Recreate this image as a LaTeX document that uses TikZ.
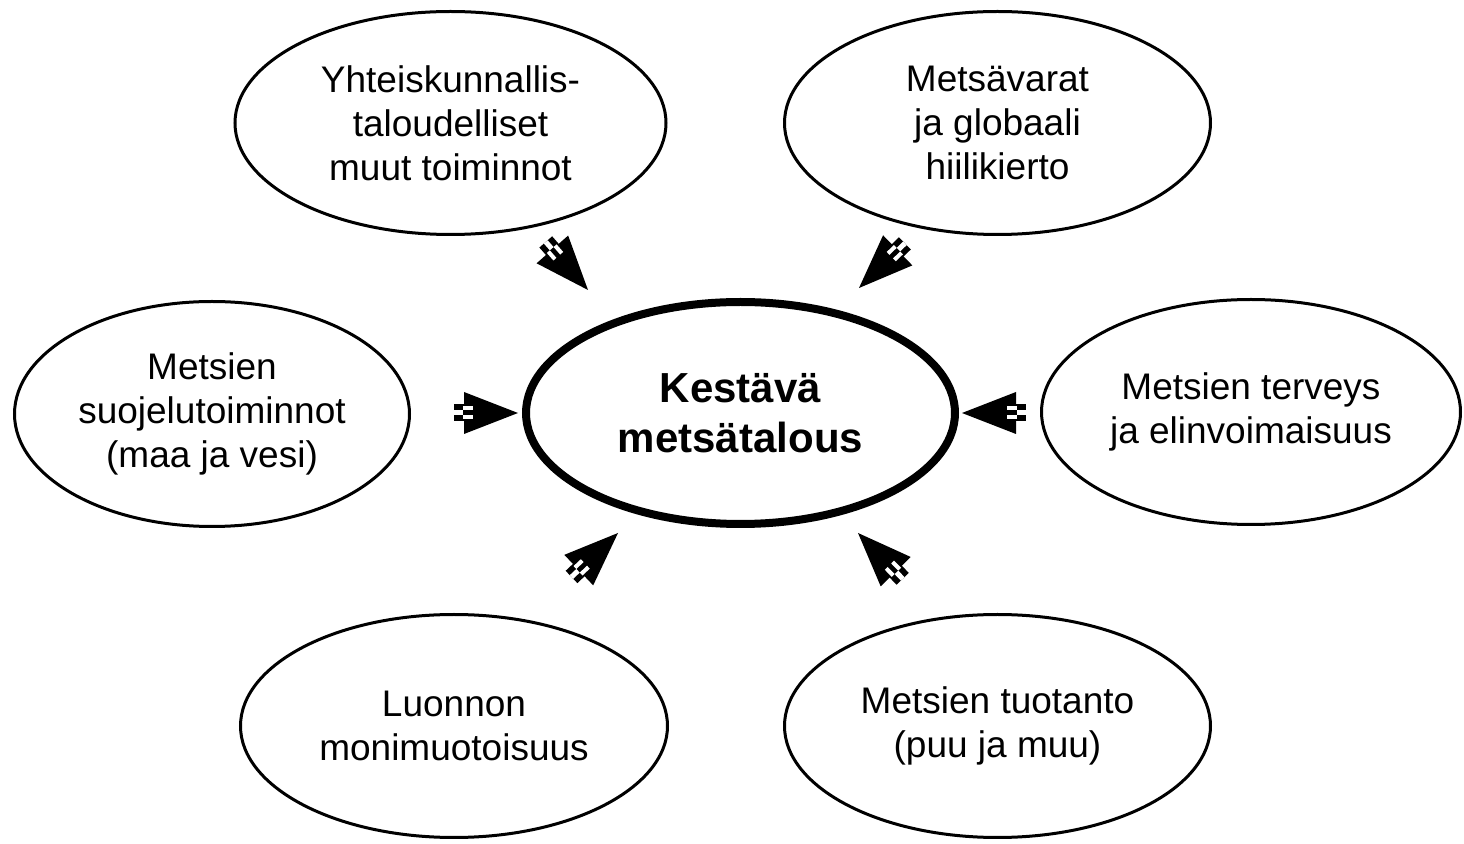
\documentclass[tikz,border=0pt]{standalone}
\usepackage{fontspec}
\setmainfont{Liberation Sans}
\usetikzlibrary{shapes.geometric}

\tikzset{
	theme/.style={ellipse, draw, line width=1.5pt, inner sep=0pt, align=center,
		font=\fontsize{18.5pt}{22pt}\selectfont},
	stripearrow/.pic={
		\fill (0,0) -- (-54,21) -- (-54,-21) -- cycle;
		\fill (-64,-8.5) rectangle (-44,8.5);
		\fill[white] (-64,-2.5) rectangle (-55,2.5);
		\fill[white] (-55,2.5) rectangle (-45,6.5);
		\fill[white] (-55,-2.5) rectangle (-45,-6.5);
	}
}

\begin{document}
\begin{tikzpicture}[x=0.5pt, y=-0.5pt]
		\useasboundingbox (0,0) rectangle (1464,844);

		\node[theme, minimum width=215.5pt, minimum height=111.5pt] (socialEconomic) at (450.5,123) {Yhteiskunnallis-\\taloudelliset\\muut toiminnot};
		\node[theme, minimum width=213pt, minimum height=111.5pt] (carbonCycle) at (997.5,123) {Metsävarat\\ja globaali\\hiilikierto};

		\node[theme, minimum width=197.5pt, minimum height=112.5pt] (protection) at (212,414) {Metsien\\suojelutoiminnot\\(maa ja vesi)};
		\node[theme, minimum width=209.5pt, minimum height=112.5pt] (health) at (1251,412) {Metsien terveys\\ja elinvoimaisuus};

		\node[theme, minimum width=213.5pt, minimum height=111.5pt] (biodiversity) at (454,726) {Luonnon\\monimuotoisuus};
		\node[theme, minimum width=213pt, minimum height=111.5pt] (production) at (997.5,726) {Metsien tuotanto\\(puu ja muu)};

		\node[theme, line width=4pt, minimum width=214.5pt, minimum height=111pt,
			font=\bfseries\fontsize{21pt}{25pt}\selectfont] (sustainable) at (740.5,413) {Kestävä\\metsätalous};

		\pic[rotate=-48.7] (arrowSocial) at (588,290) {stripearrow};
		\pic[rotate=-135.8] (arrowCarbon) at (859,288) {stripearrow};
		\pic (arrowProtection) at (518,413) {stripearrow};
		\pic[rotate=180] (arrowHealth) at (962,413) {stripearrow};
		\pic[rotate=43.4] (arrowBiodiversity) at (618,533) {stripearrow};
		\pic[rotate=134.3] (arrowProduction) at (858,533) {stripearrow};
	\end{tikzpicture}
\end{document}
